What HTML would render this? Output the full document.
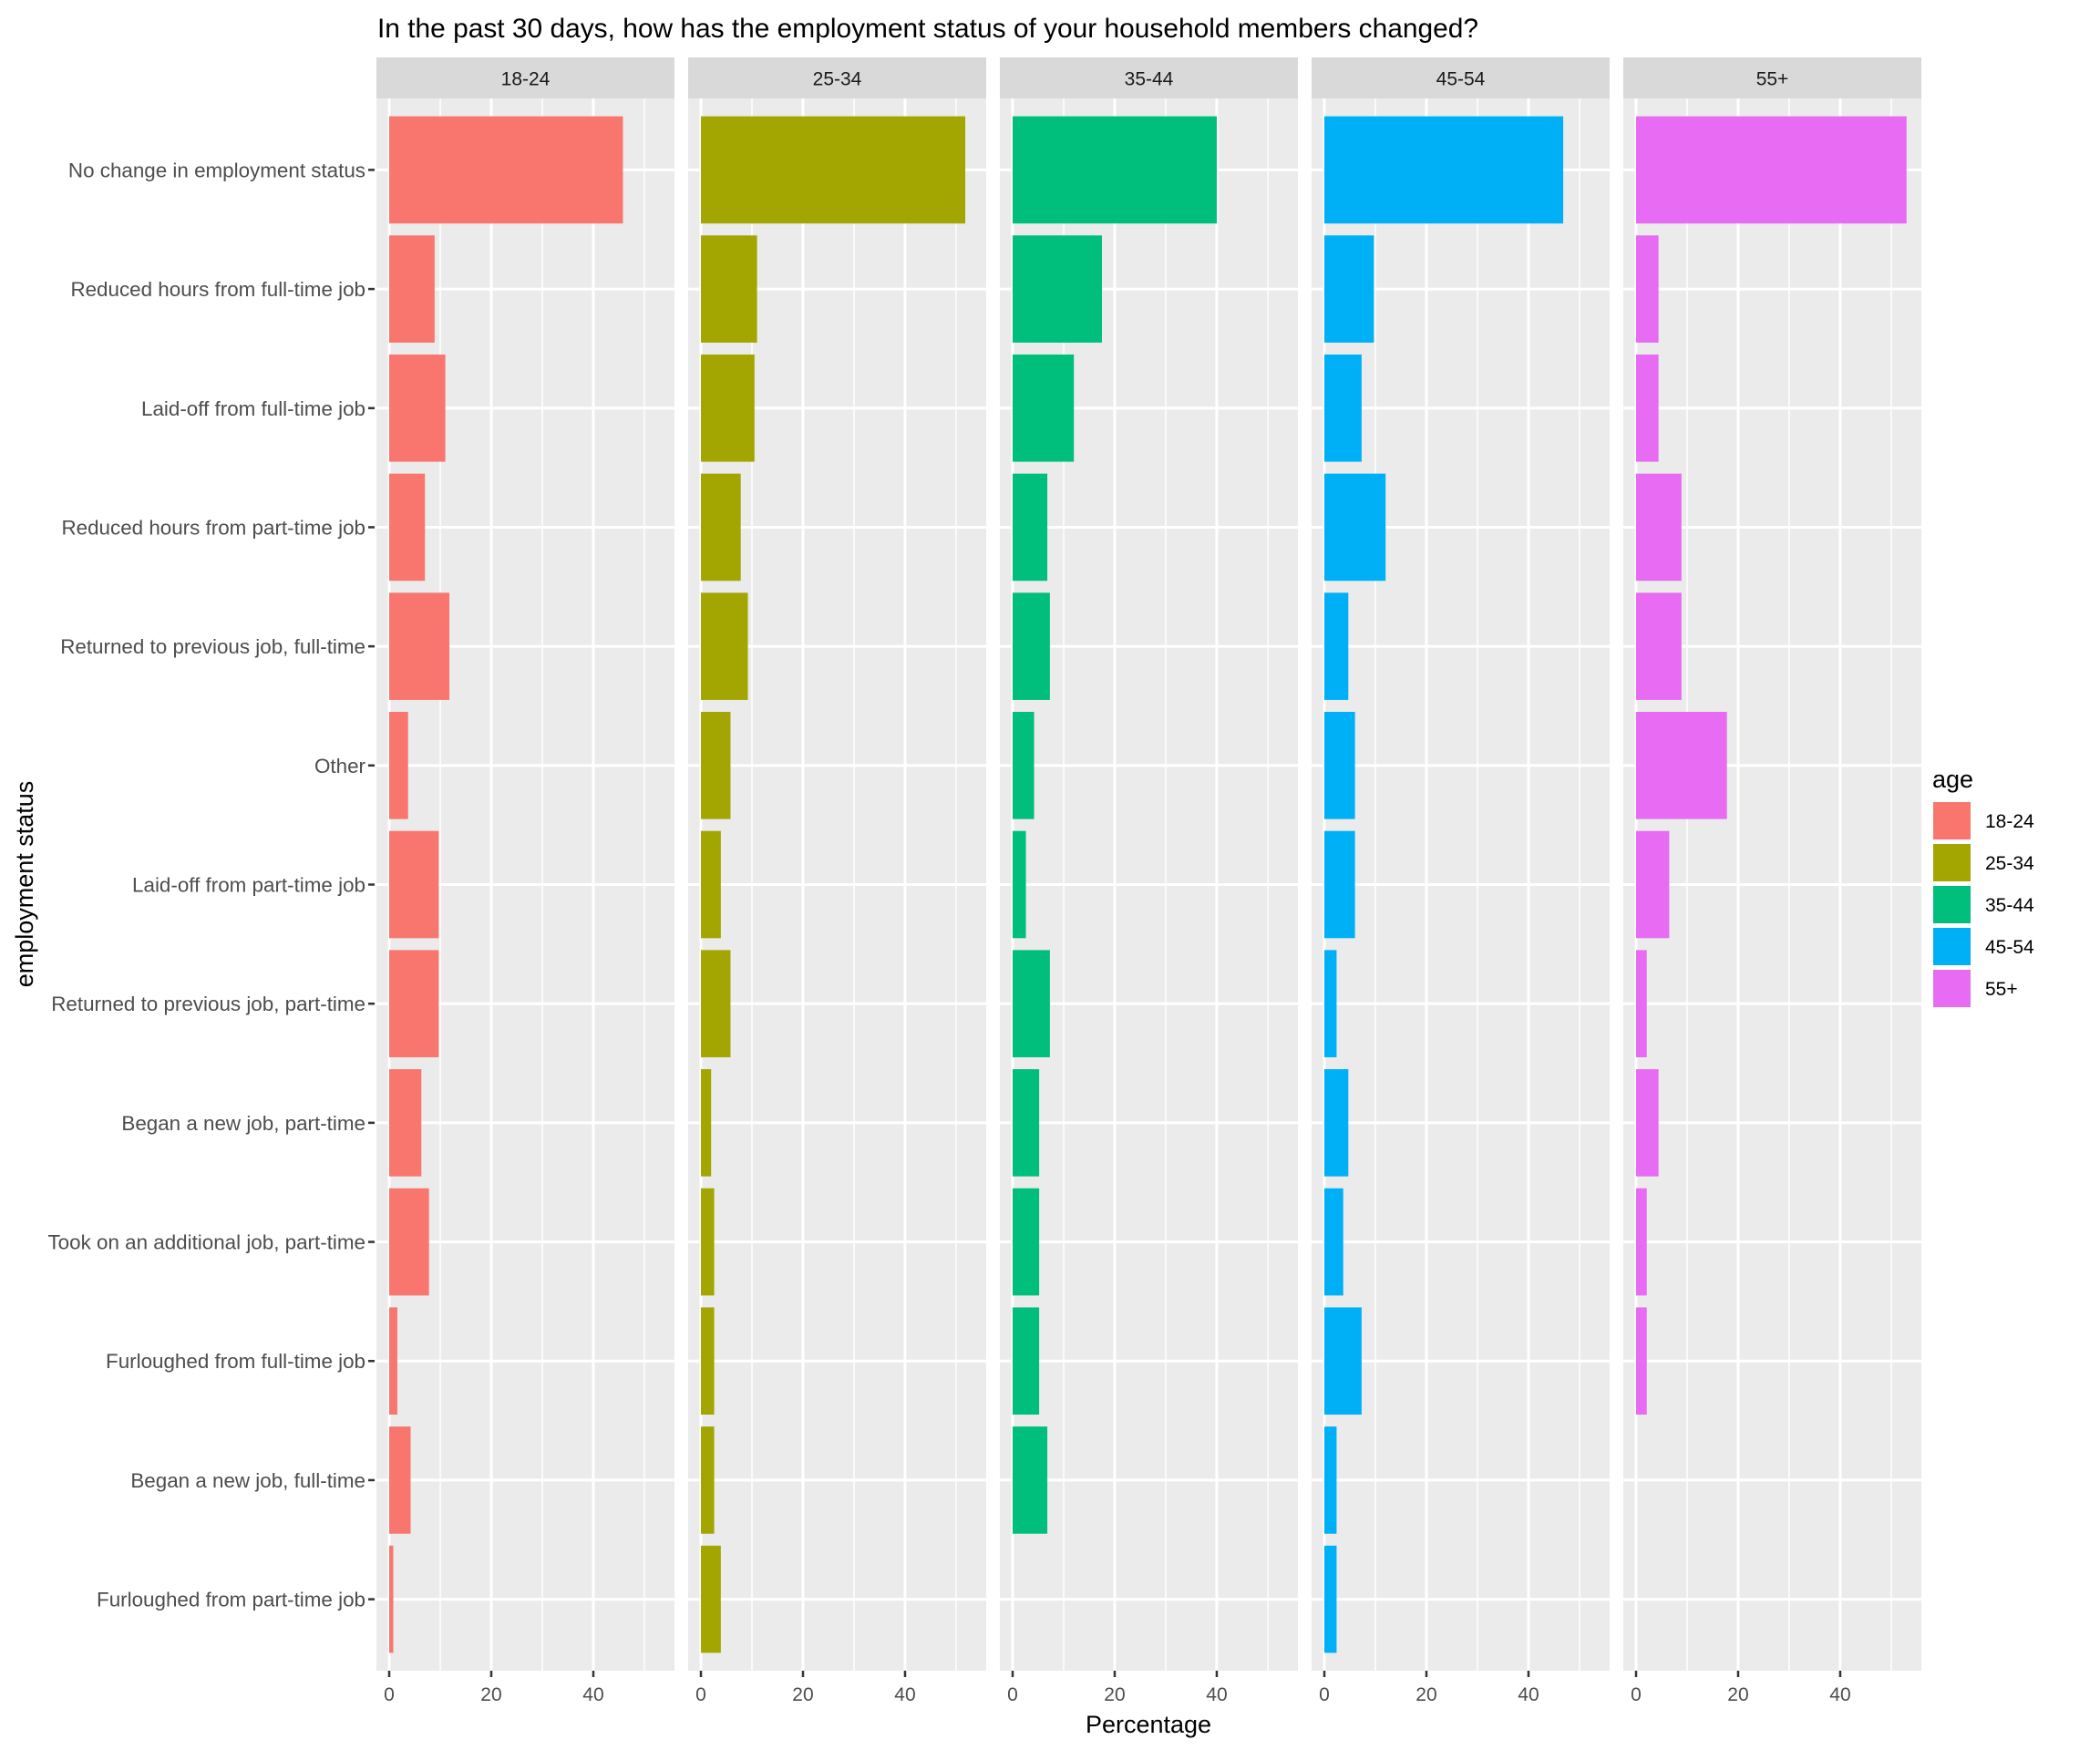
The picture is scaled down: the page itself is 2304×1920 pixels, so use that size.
<!DOCTYPE html>
<html><head><meta charset="utf-8"><style>
html,body{margin:0;padding:0;background:#fff;}
svg{display:block;font-family:"Liberation Sans",Arial,sans-serif;}
</style></head><body>
<svg id="chart" width="2304" height="1920" viewBox="0 0 2304 1920" xmlns="http://www.w3.org/2000/svg">
<text x="414" y="41" font-size="29.9" fill="#000">In the past 30 days, how has the employment status of your household members changed?</text>
<text x="1260" y="1901" font-size="27" fill="#000" text-anchor="middle">Percentage</text>
<text transform="translate(36,970) rotate(-90)" font-size="27" fill="#000" text-anchor="middle">employment status</text>
<g id="panels"></g>
<g id="legend"></g>
</svg>
<script>
const categories = ["No change in employment status","Reduced hours from full-time job","Laid-off from full-time job","Reduced hours from part-time job","Returned to previous job, full-time","Other","Laid-off from part-time job","Returned to previous job, part-time","Began a new job, part-time","Took on an additional job, part-time","Furloughed from full-time job","Began a new job, full-time","Furloughed from part-time job"];
const ageGroups = ["18-24","25-34","35-44","45-54","55+"];
const colors = ["#F8766D","#A3A500","#00BF7D","#00B0F6","#E76BF3"];
const values18_24 = [45.8,8.9,11,7,11.8,3.7,9.7,9.7,6.3,7.8,1.6,4.2,0.8];
const values25_34 = [51.8,11,10.5,7.8,9.2,5.8,3.9,5.8,2,2.6,2.6,2.6,3.9];
const values35_44 = [40,17.5,12,6.8,7.3,4.2,2.6,7.3,5.2,5.2,5.2,6.8,0];
const values45_54 = [46.8,9.7,7.3,12,4.7,6,6,2.4,4.7,3.7,7.3,2.4,2.4];
const values55plus = [53,4.4,4.4,8.9,8.9,17.8,6.5,2.1,4.4,2.1,2.1,0,0];
const majorTicks = [0,20,40];
const minorTicks = [10,30,50];

const seriesValues = [values18_24,values25_34,values35_44,values45_54,values55plus];
const NS = "http://www.w3.org/2000/svg";
const panelTop = 108, panelBottom = 1833, stripTop = 63, panelW = 327;
const xMin = -2.5, xMax = 55.9;
const n = categories.length;
const pitch = (panelBottom - panelTop) / (n - 1 + 1.2);
function yScale(i){ return panelTop + pitch * (0.6 + i); }
function xScale(v, left){ return left + (v - xMin) / (xMax - xMin) * panelW; }
function mk(tag, attrs, parent){ const e=document.createElementNS(NS,tag); for(const k in attrs) e.setAttribute(k,attrs[k]); parent.appendChild(e); return e; }
const panels = document.getElementById('panels');

ageGroups.forEach((age, p) => {
  const left = 413 + p * 342;
  const g = mk('g', {}, panels);
  
  
  const strip = mk('rect', {x:left, y:stripTop, width:panelW, height:panelTop-stripTop, fill:'#D9D9D9'}, g);
  
  
  const st = mk('text', {x:left+panelW/2, y:(stripTop+panelTop)/2+8, 'font-size':21, fill:'#1A1A1A', 'text-anchor':'middle'}, g);
  st.textContent = age;
  
  
  const bg = mk('rect', {x:left, y:panelTop, width:panelW, height:panelBottom-panelTop, fill:'#EBEBEB'}, g);
  
  
  minorTicks.forEach(t => { mk('line', {x1:xScale(t,left), x2:xScale(t,left), y1:panelTop, y2:panelBottom, stroke:'#fff', 'stroke-width':1.5}, g); });
  majorTicks.forEach(t => {
    const x = xScale(t,left);
    mk('line', {x1:x, x2:x, y1:panelTop, y2:panelBottom, stroke:'#fff', 'stroke-width':3}, g);
    mk('line', {x1:x, x2:x, y1:panelBottom, y2:panelBottom+7, stroke:'#333', 'stroke-width':2.5}, g);
    const tl = mk('text', {x:x, y:panelBottom+33, 'font-size':21, fill:'#4D4D4D', 'text-anchor':'middle'}, g);
    tl.textContent = t;
    
    
  });
  categories.forEach((c, i) => { const y=yScale(i); mk('line', {x1:left, x2:left+panelW, y1:y, y2:y, stroke:'#fff', 'stroke-width':3}, g); });
  seriesValues[p].forEach((v, i) => {
    if (v <= 0) return;
    const x0 = xScale(0,left), x1 = xScale(v,left);
    const bar = mk('rect', {x:x0, y:yScale(i)-pitch*0.45, width:x1-x0, height:pitch*0.9, fill:colors[p]}, g);
    
    
  });
});
categories.forEach((c, i) => {
  const y = yScale(i);
  mk('line', {x1:404, x2:411, y1:y, y2:y, stroke:'#333', 'stroke-width':2.5}, panels);
  const t = mk('text', {x:401, y:y+8, 'font-size':22.4, fill:'#4D4D4D', 'text-anchor':'end'}, panels);
  t.textContent = c;
  
  
});
const legend = document.getElementById('legend');
const lt = mk('text', {x:2120, y:864, 'font-size':27, fill:'#000'}, legend);
lt.textContent = 'age';


ageGroups.forEach((age, i) => {
  const y = 879 + i*46;
  const k = mk('rect', {x:2120, y:y, width:43, height:43, fill:colors[i], stroke:'#fff', 'stroke-width':2}, legend);
  
  
  const t = mk('text', {x:2178, y:y+29, 'font-size':21, fill:'#000'}, legend);
  t.textContent = age;
  
  
});
</script>
</body></html>
